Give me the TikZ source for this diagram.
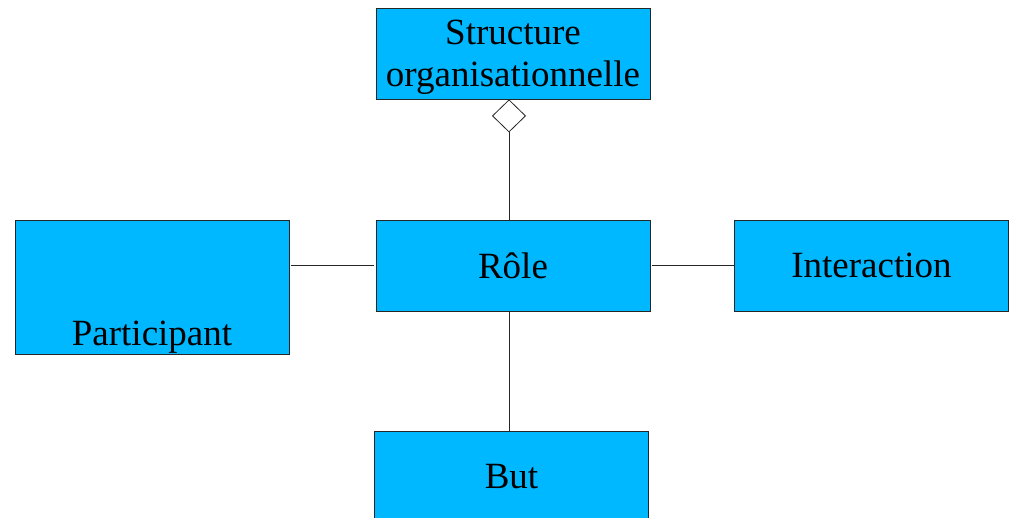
\documentclass[tikz,border=0pt]{standalone}
\usepackage{fontspec}
\setmainfont{Liberation Serif}
\usetikzlibrary{arrows.meta}
\definecolor{boxblue}{HTML}{00B8FF}
\tikzset{
  umlfont/.style={font=\fontsize{37}{42}\selectfont},
  umlbox/.style={draw=black!85, line width=0.8pt, fill=boxblue, minimum width=274pt, minimum height=91pt, inner sep=0pt, align=center, umlfont},
  conn/.style={draw=black!85, line width=0.8pt},
}
\begin{document}
\begin{tikzpicture}[x=1pt,y=-1pt]
\useasboundingbox (0,0) rectangle (1011,518);
\node[umlbox, label={[align=center, umlfont, yshift=-4pt]center:Structure\\organisationnelle}] (struct) at (513,53.5) {};
\node[umlbox] (role) at (513,265.5) {Rôle};
\node[umlbox, minimum height=134pt,
  label={[anchor=base, yshift=9pt, umlfont]south:Participant}] (part) at (152,287) {};
\node[umlbox] (inter) at (871.5,265.5) {Interaction};
\node[umlbox] (but) at (511.5,476.5) {But};
\coordinate (rs) at ([xshift=-4pt]role.south);
\draw[conn, -{Diamond[open, fill=white, length=33pt, width=34pt]}] ([xshift=-4pt]role.north) -- ([xshift=-4pt]struct.south);
\draw[conn] (rs) -- (but.north -| rs);
\draw[conn] ([xshift=2pt]part.east |- role.west) -- ([xshift=-2pt]role.west);
\draw[conn] ([xshift=2pt]role.east) -- (inter.west);
\end{tikzpicture}
\end{document}
